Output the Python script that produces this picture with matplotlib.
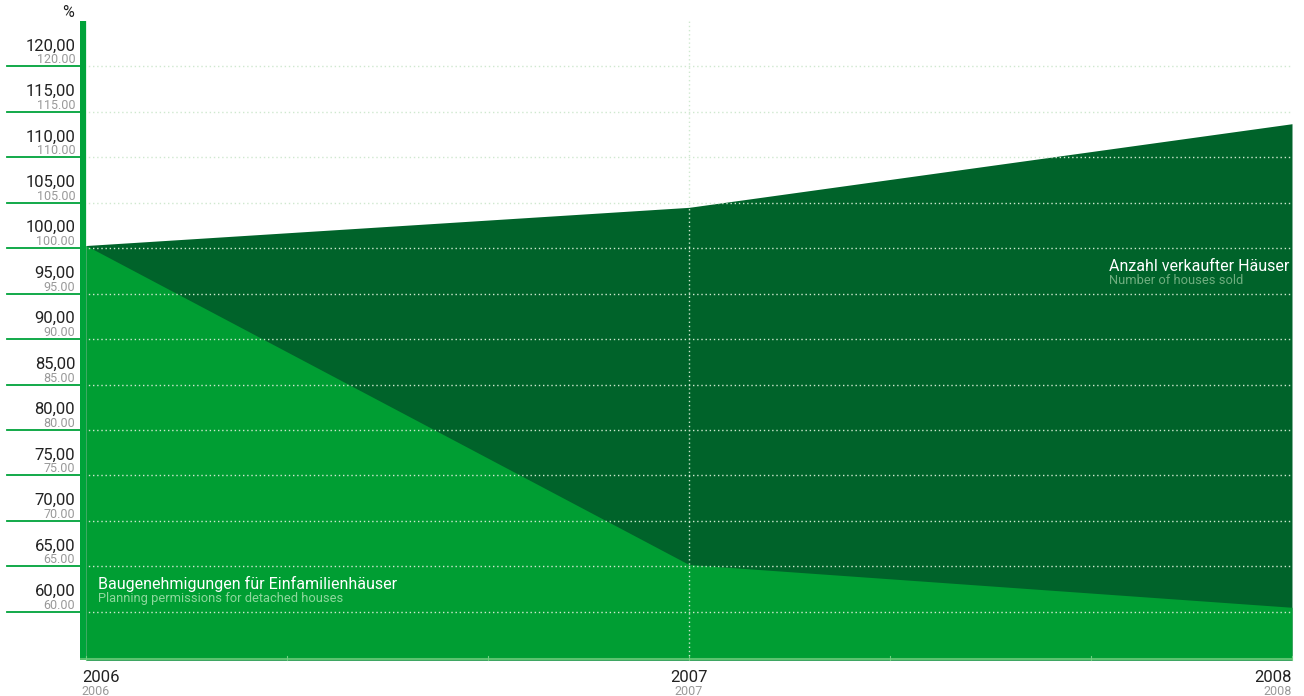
import matplotlib.pyplot as plt
import matplotlib.transforms as mtransforms

plt.rcParams['font.family'] = ['Roboto', 'DejaVu Sans']

# Index values (2006 = 100)
years = [2006, 2007, 2008]
houses_sold = [100.3, 104.5, 113.7]
planning_permissions = [100.3, 65.2, 60.5]

y_ticks = [120, 115, 110, 105, 100, 95, 90, 85, 80, 75, 70, 65, 60]
y_labels_de = ['%.2f' % v for v in y_ticks]
year_labels = ['2006', '2007', '2008']

dark_green = '#00632a'
light_green = '#009e33'
bar_green = '#00a33a'
grid_col = '#cfe8cf'
text_black = '#222222'
text_grey = '#999999'

fig = plt.figure(figsize=(13.04, 6.96), dpi=100)
ax = fig.add_axes([80 / 1304, 36 / 696, 1212 / 1304, 639 / 696])
ax.set_xlim(2005.99, 2008)
ax.set_ylim(54.7, 125)
for s in ax.spines.values():
    s.set_visible(False)
ax.set_xticks([])
ax.set_yticks([])

ymin = ax.get_ylim()[0]
ax.fill_between(years, ymin, houses_sold, color=dark_green, lw=0, zorder=1)
ax.fill_between(years, ymin, planning_permissions, color=light_green, lw=0, zorder=2)
ax.axvspan(2005.99, 2006, color=light_green, lw=0, zorder=2)

# horizontal dotted grid
for v in y_ticks:
    ax.axhline(v, color=grid_col, lw=1, ls=(0, (1, 2)), zorder=3)
ax.axvline(2007, color=grid_col, lw=1, ls=(0, (1, 2)), zorder=3)

# left bar and bottom line
ax.axvline(2005.995, ymin=0, ymax=1, color=bar_green, lw=4.5, zorder=5)
ax.axhline(ymin + 0.1, color='#5cc36f', lw=1.5, zorder=5)

# small ticks at thirds of a year along the bottom
for k in range(7):
    xt = 2006 + k / 3
    ax.plot([xt, xt], [ymin, ymin + 0.4], color='#6fcf80', lw=0.8, zorder=6, clip_on=False)

# y-axis labels with green lead lines
trans = mtransforms.blended_transform_factory(ax.transAxes, ax.transData)
for v, lab in zip(y_ticks, y_labels_de):
    ax.plot([-0.0602, 0], [v, v], color=bar_green, lw=1.3, transform=trans, clip_on=False, zorder=6)
    ax.text(-0.004, v + 1.76, lab.replace('.', ','), transform=trans, ha='right', va='baseline',
            fontsize=12, color=text_black)
    ax.text(-0.004, v + 0.33, lab, transform=trans, ha='right', va='baseline',
            fontsize=9, color=text_grey)

fig.text(74 / 1304, 1 - 17 / 696, '%', ha='right', va='baseline', fontsize=11.5, color=text_black)

# year labels
aligns = ['left', 'center', 'right']
for yr, lab, al in zip(years, year_labels, aligns):
    xt = yr - 0.007 if al == 'left' else yr
    ax.text(xt, 52.28, lab, ha=al, va='baseline', fontsize=12, color=text_black, clip_on=False)
    ax.text(xt, 50.85, lab, ha=al, va='baseline', fontsize=9, color=text_grey, clip_on=False)

# series labels
ax.text(2006.02, 62.53, 'Baugenehmigungen für Einfamilienhäuser', ha='left', va='baseline',
        fontsize=11.5, color='white', zorder=7)
ax.text(2006.02, 61.1, 'Planning permissions for detached houses', ha='left', va='baseline',
        fontsize=9.3, color='#8fd89d', zorder=7)
ax.text(2007.697, 97.47, 'Anzahl verkaufter Häuser', ha='left', va='baseline',
        fontsize=11.5, color='white', zorder=7)
ax.text(2007.697, 96.04, 'Number of houses sold', ha='left', va='baseline',
        fontsize=9.3, color='#6fae7f', zorder=7)

fig.savefig('out.png', dpi=100)
